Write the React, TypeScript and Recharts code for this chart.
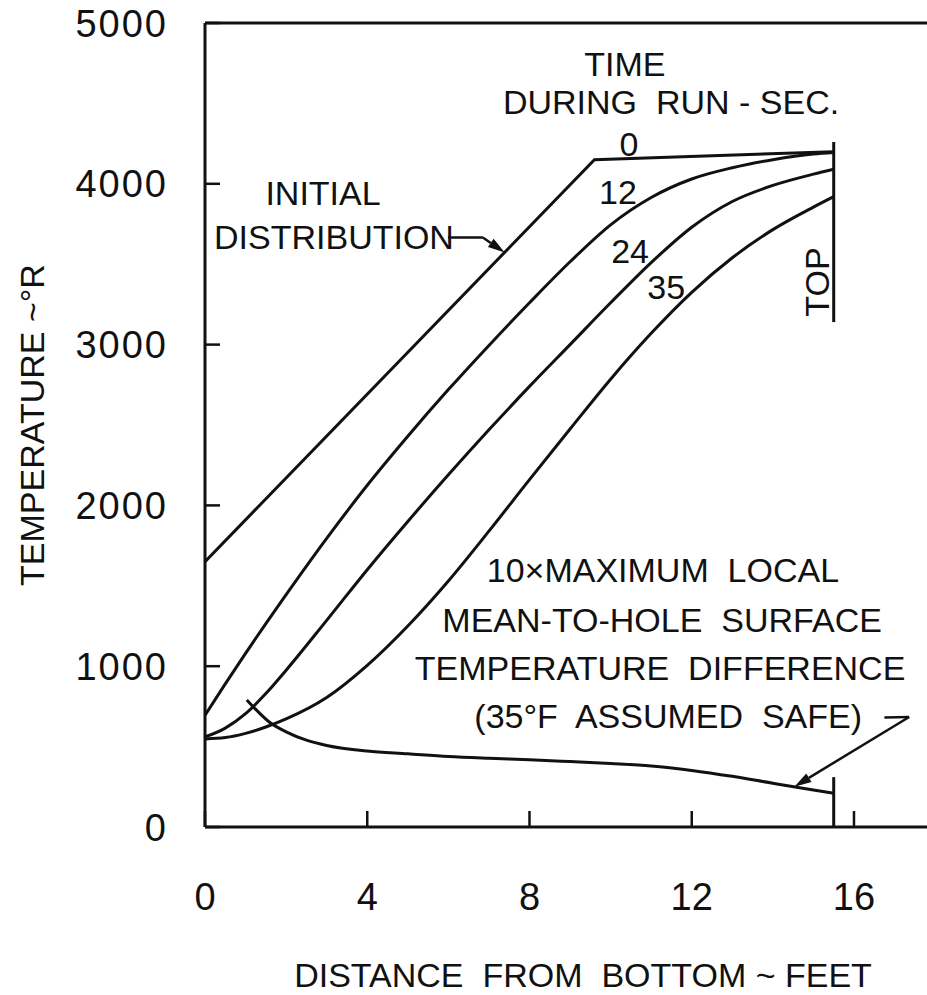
import React from "react";
import {
  LineChart,
  Line,
  XAxis,
  YAxis,
  ReferenceLine,
  ReferenceDot,
} from "recharts";

// distance from bottom (ft) where the transient profiles are tabulated
const distance = [0, 0.5, 1, 1.5, 2, 3, 4, 5, 6, 7, 8, 9, 10, 11, 12, 13, 14, 15, 15.5];

// temperature (deg R) at 12, 24 and 35 sec into the run
const temp12 = [695, 890, 1080, 1265, 1445, 1795, 2125, 2430, 2720, 2995, 3260, 3515, 3745, 3915, 4030, 4100, 4150, 4185, 4195];
const temp24 = [560, 615, 705, 830, 975, 1285, 1600, 1900, 2190, 2470, 2740, 3000, 3260, 3510, 3730, 3890, 3990, 4060, 4090];
const temp35 = [548, 556, 582, 622, 672, 805, 1005, 1250, 1530, 1840, 2160, 2475, 2785, 3070, 3325, 3540, 3715, 3855, 3920];

// initial distribution (time 0)
const initialDistance = [0, 9.6, 15.5];
const initialTemp = [1650, 4150, 4200];

// 10 x maximum local mean-to-hole surface temperature difference
const diffDistance = [1.03, 1.2, 1.6, 2, 2.5, 3, 4, 5, 6, 7, 8, 9, 10, 11, 12, 13, 14, 15, 15.5];
const diffTemp = [790, 745, 650, 592, 540, 507, 472, 455, 438, 427, 418, 407, 395, 380, 352, 315, 272, 230, 210];

const xTicks = [0, 4, 8, 12, 16];
const yTicks = [0, 1000, 2000, 3000, 4000, 5000];

const TOP_X = 15.5;

const FONT = "Liberation Sans, Arial, sans-serif";
const INK = "#111";

const toPoints = (xs: number[], ts: number[]) => xs.map((x, i) => ({ x, t: ts[i] }));

const series = [
  { name: "0 sec", data: toPoints(initialDistance, initialTemp), type: "linear" },
  { name: "12 sec", data: toPoints(distance, temp12), type: "monotone" },
  { name: "24 sec", data: toPoints(distance, temp24), type: "monotone" },
  { name: "35 sec", data: toPoints(distance, temp35), type: "monotone" },
  { name: "10x diff", data: toPoints(diffDistance, diffTemp), type: "monotone" },
];

// annotation anchors, in chart units
const notes = [
  { x: 10.35, y: 4745, text: "TIME" },
  { x: 11.49, y: 4509, text: "DURING  RUN - SEC." },
  { x: 10.45, y: 4251, text: "0" },
  { x: 10.18, y: 3949, text: "12" },
  { x: 10.48, y: 3582, text: "24" },
  { x: 11.37, y: 3358, text: "35" },
  { x: 2.91, y: 3946, text: "INITIAL" },
  { x: 3.18, y: 3669, text: "DISTRIBUTION" },
  { x: 11.29, y: 1598, text: "10×MAXIMUM  LOCAL" },
  { x: 11.27, y: 1287, text: "MEAN-TO-HOLE  SURFACE" },
  { x: 11.22, y: 989, text: "TEMPERATURE  DIFFERENCE" },
  { x: 11.42, y: 690, text: "(35°F  ASSUMED  SAFE)" },
];

// leader lines: plain dashes after the text, then an arrow onto the curve
const leaders = [
  { from: { x: 5.99, y: 3666 }, to: { x: 6.85, y: 3666 }, arrow: false },
  { from: { x: 6.85, y: 3666 }, to: { x: 7.39, y: 3572 }, arrow: true },
  { from: { x: 16.75, y: 681 }, to: { x: 17.36, y: 684 }, arrow: false },
  { from: { x: 17.36, y: 684 }, to: { x: 14.53, y: 251 }, arrow: true },
];

const XTick = ({ x, y, payload }: any) => (
  <g>
    <line x1={x} x2={x} y1={y} y2={y - 16} stroke={INK} strokeWidth={2.5} />
    <text x={x} y={y + 69} dy="0.36em" textAnchor="middle" fontSize={38} fontFamily={FONT} fill={INK}>
      {payload.value}
    </text>
  </g>
);

const YTick = ({ x, y, payload }: any) => (
  <g>
    <line x1={x} x2={x + 15} y1={y} y2={y} stroke={INK} strokeWidth={2.5} />
    <text x={x - 37} y={y} dy="0.36em" textAnchor="end" fontSize={38} letterSpacing={2} fontFamily={FONT} fill={INK}>
      {payload.value}
    </text>
  </g>
);

const leaderShape = (arrow: boolean) => (p: any) => {
  const { x1, y1, x2, y2 } = p;
  const a = Math.atan2(y2 - y1, x2 - x1);
  const len = 17;
  const w = 5;
  const bx = x2 - len * Math.cos(a);
  const by = y2 - len * Math.sin(a);
  const pts = `${x2},${y2} ${bx - w * Math.sin(a)},${by + w * Math.cos(a)} ${bx + w * Math.sin(a)},${by - w * Math.cos(a)}`;
  return (
    <g>
      <line x1={x1} y1={y1} x2={arrow ? bx : x2} y2={arrow ? by : y2} stroke={INK} strokeWidth={2.5} />
      {arrow && <polygon points={pts} fill={INK} />}
    </g>
  );
};

const noteShape = (text: string, rotate = 0) => (p: any) => (
  <text
    x={p.cx}
    y={p.cy}
    dy="0.36em"
    textAnchor="middle"
    fontSize={34}
    fontFamily={FONT}
    fill={INK}
    style={{ whiteSpace: "pre" }}
    transform={rotate ? `rotate(${rotate} ${p.cx} ${p.cy})` : undefined}
  >
    {text}
  </text>
);

export default function App() {
  return (
    <div style={{ position: "absolute", left: 0, top: 0, width: 927, height: 995, background: "#fff" }}>
      <LineChart width={927} height={995} margin={{ top: 23, right: 0, bottom: 0, left: 0 }}>
        <XAxis
          type="number"
          dataKey="x"
          domain={[0, 17.8]}
          ticks={xTicks}
          interval={0}
          allowDataOverflow
          height={168}
          tickSize={0}
          tickMargin={0}
          tickLine={false}
          tick={<XTick />}
          axisLine={{ stroke: INK, strokeWidth: 3 }}
          label={{
            content: ({ viewBox }: any) => (
              <text
                x={viewBox.x + 378}
                y={viewBox.y + 148}
                dy="0.36em"
                textAnchor="middle"
                fontSize={34}
                fontFamily={FONT}
                fill={INK}
                style={{ whiteSpace: "pre" }}
              >
                DISTANCE  FROM  BOTTOM ~ FEET
              </text>
            ),
          }}
        />
        <YAxis
          type="number"
          domain={[0, 5000]}
          ticks={yTicks}
          interval={0}
          width={205}
          tickSize={0}
          tickMargin={0}
          tickLine={false}
          tick={<YTick />}
          axisLine={{ stroke: INK, strokeWidth: 3 }}
          label={{
            content: ({ viewBox }: any) => {
              const cx = viewBox.x + 32;
              const cy = viewBox.y + viewBox.height / 2;
              return (
                <text
                  x={cx}
                  y={cy}
                  dy="0.36em"
                  textAnchor="middle"
                  fontSize={34}
                  fontFamily={FONT}
                  fill={INK}
                  transform={`rotate(-90 ${cx} ${cy})`}
                >
                  TEMPERATURE ~°R
                </text>
              );
            },
          }}
        />

        {/* top frame edge */}
        <ReferenceLine y={5000} stroke={INK} strokeWidth={3} />

        {/* marker at the top of the section */}
        <ReferenceLine segment={[{ x: TOP_X, y: 0 }, { x: TOP_X, y: 310 }]} stroke={INK} strokeWidth={3} />
        <ReferenceLine segment={[{ x: TOP_X, y: 3140 }, { x: TOP_X, y: 4260 }]} stroke={INK} strokeWidth={3} />

        {series.map((s) => (
          <Line
            key={s.name}
            name={s.name}
            data={s.data}
            dataKey="t"
            type={s.type as any}
            stroke={INK}
            strokeWidth={3}
            dot={false}
            isAnimationActive={false}
          />
        ))}

        {leaders.map((l, i) => (
          <ReferenceLine key={`l${i}`} segment={[l.from, l.to]} shape={leaderShape(l.arrow)} />
        ))}

        {notes.map((n) => (
          <ReferenceDot key={n.text} x={n.x} y={n.y} r={0} shape={noteShape(n.text)} />
        ))}
        <ReferenceDot x={15.09} y={3389} r={0} shape={noteShape("TOP", -90)} />
      </LineChart>
    </div>
  );
}
